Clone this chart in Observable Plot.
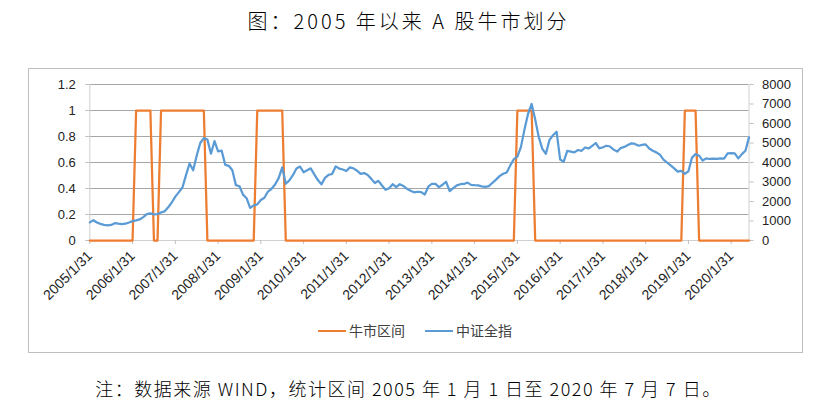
<!DOCTYPE html>
<html><head><meta charset="utf-8">
<script src="https://cdn.jsdelivr.net/npm/d3@7"></script>
<script src="https://cdn.jsdelivr.net/npm/@observablehq/plot@0.6"></script>
<style>
body{margin:0;background:#fff;width:817px;height:414px;position:relative;overflow:hidden;font-family:"Noto Sans CJK SC",sans-serif;color:#000;}
#title{position:absolute;top:6px;left:0;width:817px;text-align:center;font-size:20px;letter-spacing:3px;font-weight:300;white-space:pre;}
#chart{position:absolute;left:0;top:40px;}
#frame{position:absolute;left:28px;top:68px;width:773px;height:283px;border:1px solid #bfbfbf;pointer-events:none;}
.leg{position:absolute;top:320px;height:20px;line-height:20px;font-size:14px;color:#404040;white-space:nowrap;}
.sw{display:inline-block;width:28px;height:2.5px;vertical-align:middle;margin-right:3px;position:relative;top:-1px;}
#caption{position:absolute;top:375px;left:0;width:817px;text-align:center;font-size:18px;letter-spacing:1.5px;font-weight:300;white-space:pre;}
</style></head>
<body>
<div id="title">图：2005 年以来 A 股牛市划分</div>
<div id="chart"></div>
<div id="frame"></div>
<div class="leg" style="left:318px"><span class="sw" style="background:#ED7D31"></span>牛市区间</div>
<div class="leg" style="left:425px"><span class="sw" style="background:#5B9BD5"></span>中证全指</div>
<div id="caption">注：数据来源 WIND，统计区间 2005 年 1 月 1 日至 2020 年 7 月 7 日。</div>
<script>
const xTickLabels = ["2005/1/31","2006/1/31","2007/1/31","2008/1/31","2009/1/31","2010/1/31","2011/1/31","2012/1/31","2013/1/31","2014/1/31","2015/1/31","2016/1/31","2017/1/31","2018/1/31","2019/1/31","2020/1/31"];
const leftTicks = [0, 0.2, 0.4, 0.6, 0.8, 1, 1.2];
const rightTicks = [0, 1000, 2000, 3000, 4000, 5000, 6000, 7000, 8000];
const LEFT_MAX = 1.2, RIGHT_MAX = 8000;

// 牛市区间 (monthly, 2005/1 .. 2020/6)
const bull = [
  0,0,0,0,0,0,0,0,0,0,0,0,
  0,1,1,1,1,1,0,0,1,1,1,1,
  1,1,1,1,1,1,1,1,1,0,0,0,
  0,0,0,0,0,0,0,0,0,0,0,1,
  1,1,1,1,1,1,1,0,0,0,0,0,
  0,0,0,0,0,0,0,0,0,0,0,0,
  0,0,0,0,0,0,0,0,0,0,0,0,
  0,0,0,0,0,0,0,0,0,0,0,0,
  0,0,0,0,0,0,0,0,0,0,0,0,
  0,0,0,0,0,0,0,0,0,0,0,0,
  1,1,1,1,1,0,0,0,0,0,0,0,
  0,0,0,0,0,0,0,0,0,0,0,0,
  0,0,0,0,0,0,0,0,0,0,0,0,
  0,0,0,0,0,0,0,0,0,0,0,1,
  1,1,1,0,0,0,0,0,0,0,0,0,
  0,0,0,0,0,0
];

// 中证全指 (monthly, 2005/1 .. 2020/7)
const csi = [
  930,1040,920,850,800,780,800,890,860,845,860,925,
  995,1030,1080,1200,1355,1390,1340,1355,1440,1495,1700,1950,
  2250,2480,2720,3350,3950,3600,4350,5000,5250,5180,4450,5100,
  4570,4610,3880,3830,3600,2840,2780,2350,2170,1670,1800,1850,
  2080,2190,2510,2650,2870,3200,3750,2910,3080,3350,3690,3790,
  3500,3600,3700,3390,3100,2880,3210,3370,3410,3800,3690,3640,
  3560,3750,3700,3580,3420,3460,3360,3160,2950,3060,2820,2600,
  2680,2890,2740,2886,2800,2650,2550,2470,2500,2480,2360,2760,
  2910,2900,2740,2860,3010,2530,2680,2830,2886,2900,2970,2852,
  2835,2830,2775,2750,2790,2960,3120,3300,3420,3490,3850,4170,
  4300,4800,5700,6500,7000,6200,5300,4700,4450,5150,5400,5580,
  4150,4040,4600,4560,4520,4640,4600,4770,4720,4850,5000,4730,
  4780,4860,4820,4660,4560,4740,4800,4900,4980,4950,4860,4900,
  4930,4720,4600,4520,4400,4150,4000,3850,3700,3530,3570,3420,
  3550,4250,4430,4350,4100,4210,4180,4200,4190,4210,4200,4470,
  4480,4470,4210,4430,4600,5290
];

const n = csi.length;
const chart = Plot.plot({
  width: 817,
  height: 320,
  marginLeft: 89.3,
  marginRight: 68.5,
  marginTop: 44,
  marginBottom: 120,
  x: {domain: [0, n - 1]},
  y: {domain: [0, LEFT_MAX]},
  style: {fontFamily: "'Liberation Sans', Arial, sans-serif", fontSize: "13px", background: "transparent", overflow: "visible"},
  marks: [
    Plot.gridY(leftTicks.filter(d => d > 0), {stroke: "#a6a6a6", strokeOpacity: 1, strokeWidth: 1}),
    Plot.ruleX([0, n - 1], {stroke: "#d0d0d0"}),
    Plot.ruleY([0], {stroke: "#d0d0d0"}),
    Plot.axisY(leftTicks, {anchor: "left", tickSize: 4, tickPadding: 10, stroke: "#bfbfbf", fill: "#222", tickFormat: d => String(d), label: null}),
    Plot.axisY(rightTicks.map(v => v * LEFT_MAX / RIGHT_MAX), {anchor: "right", tickSize: 4, tickPadding: 9, stroke: "#bfbfbf", fill: "#222", tickFormat: d => String(Math.round(d * RIGHT_MAX / LEFT_MAX)), label: null}),
    Plot.axisX(xTickLabels.map((_, k) => k * 12), {tickSize: 4, tickPadding: 9, stroke: "#bfbfbf", fill: "#222", tickRotate: -45, fontSize: 14, tickFormat: i => xTickLabels[i / 12], label: null}),
    Plot.line(bull, {x: (d, i) => i, y: d => d, stroke: "#ED7D31", strokeWidth: 2.25}),
    Plot.line(csi, {x: (d, i) => i, y: d => d * LEFT_MAX / RIGHT_MAX, stroke: "#5B9BD5", strokeWidth: 2.25})
  ]
});
document.getElementById("chart").appendChild(chart);
</script>
</body></html>
